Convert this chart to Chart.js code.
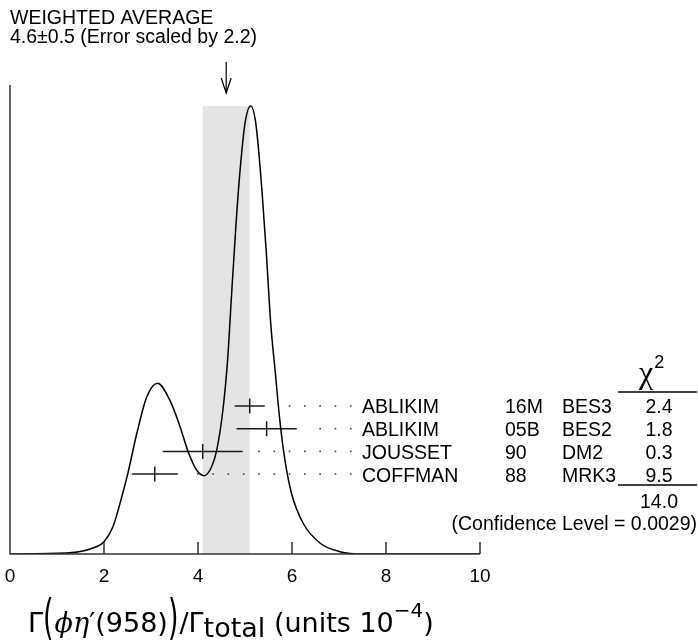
<!DOCTYPE html>
<html>
<head>
<meta charset="utf-8">
<script src="https://cdn.jsdelivr.net/npm/chart.js@4.4.1/dist/chart.umd.min.js"></script>
<style>
body { margin: 0; background: #fff; }
#wrap { width: 698px; height: 643px; }
</style>
</head>
<body>
<div id="wrap"><canvas id="ideogram" width="698" height="643"></canvas></div>
<script>
// measurements, units 10^-4
const authors = ["ABLIKIM", "ABLIKIM", "JOUSSET", "COFFMAN"];
const docIds = ["16M", "05B", "90", "88"];
const experiments = ["BES3", "BES2", "DM2", "MRK3"];
const values = [5.10, 5.46, 4.10, 3.08];
const errors = [0.32, 0.64, 0.85, 0.49];
const chi2Values = ["2.4", "1.8", "0.3", "9.5"];
const chi2Total = "14.0";
const confidenceLevel = "0.0029";

const avgValue = 4.6;
const avgError = 0.5;
const errorScale = 2.2;

// ideogram curve (relative height)
const curveX = [0, 1.2, 1.85, 2.0, 2.19, 2.4, 2.51, 2.7, 2.91, 3.14, 3.4, 3.62, 3.79, 3.97, 4.13, 4.29, 4.4, 4.53,
	4.63, 4.68, 4.72, 4.81, 4.89, 5.0, 5.12, 5.23, 5.36, 5.45, 5.55, 5.64, 5.74, 5.85, 5.99, 6.24, 6.6, 7.02, 7.52, 10];
const curveY = [0, 0.002, 0.016, 0.026, 0.058, 0.130, 0.173, 0.258, 0.335, 0.364, 0.328, 0.271, 0.218, 0.179, 0.167, 0.186, 0.222, 0.307,
	0.414, 0.495, 0.563, 0.705, 0.812, 0.918, 0.955, 0.918, 0.776, 0.648, 0.488, 0.392, 0.286, 0.200, 0.129, 0.065, 0.023, 0.005, 0, 0];

const xTicks = [0, 2, 4, 6, 8, 10];

// layout bits
const rowTop = 0.3156;
const rowStep = 0.0484;
const leaderEnd = 7.25;
const leaderStepPx = 15.3;
const sans = '"Liberation Sans", Arial, sans-serif';
const ink = "#1a1a1a";

function rowY(i) {
	return rowTop - i * rowStep;
}

let datasets = [];

datasets.push({
	data: curveX.map((v, i) => ({x: v, y: curveY[i]})),
	borderColor: "#000",
	borderWidth: 1.5,
	pointRadius: 0,
	cubicInterpolationMode: "monotone",
	fill: false
});

for (let i = 0; i < values.length; i++) {
	datasets.push({
		data: [{x: values[i] - errors[i], y: rowY(i)}, {x: values[i] + errors[i], y: rowY(i)}],
		borderColor: ink,
		borderWidth: 1.5,
		pointRadius: 0,
		fill: false
	});
}

datasets.push({
	data: values.map((v, i) => ({x: v, y: rowY(i)})),
	showLine: false,
	pointStyle: "line",
	rotation: 90,
	pointRadius: 7.5,
	borderColor: ink,
	borderWidth: 1.5
});

function drawAxisTitle(ctx) {
	let cx = 28;
	const base = 632;
	const big = '27px "DejaVu Sans"';
	ctx.fillStyle = "#000";
	ctx.textAlign = "left";
	ctx.textBaseline = "alphabetic";

	let piece = function(txt, font, dy) {
		ctx.font = font;
		ctx.fillText(txt, cx, base + (dy || 0));
		cx += ctx.measureText(txt).width;
	};
	let bigParen = function(txt) {
		ctx.save();
		ctx.font = big;
		ctx.textBaseline = "middle";
		ctx.translate(cx, 621);
		ctx.scale(1, 1.8);
		ctx.fillText(txt, 0, 0);
		ctx.restore();
		ctx.font = big;
		cx += ctx.measureText(txt).width + 1;
	};

	piece("Γ", big);
	bigParen("(");
	piece("ϕη", 'italic 27px "DejaVu Serif"');
	piece("′", big);
	piece("(958)", big);
	bigParen(")");
	piece("/Γ", big);
	piece("total", big, 5);
	piece(" (units 10", big);
	piece("−4", '20px "DejaVu Sans"', -15);
	piece(")", big);
}

const decor = {
	id: "decor",
	beforeDatasetsDraw(chart) {
		const {ctx, chartArea: a, scales: {x, y}} = chart;
		const top = y.getPixelForValue(Math.max(...curveY));
		const l = x.getPixelForValue(avgValue - avgError);
		const r = x.getPixelForValue(avgValue + avgError);
		ctx.save();
		ctx.fillStyle = "#e4e4e4";
		ctx.fillRect(l, top, r - l, a.bottom - top);
		ctx.restore();
	},
	afterDatasetsDraw(chart) {
		const {ctx, chartArea: a, scales: {x, y}} = chart;
		ctx.save();

		// frame: left line and bottom axis with inward ticks
		ctx.strokeStyle = "#333";
		ctx.lineWidth = 1.5;
		ctx.beginPath();
		ctx.moveTo(a.left, a.top);
		ctx.lineTo(a.left, a.bottom);
		ctx.lineTo(a.right, a.bottom);
		for (let t of xTicks) {
			let px = x.getPixelForValue(t);
			ctx.moveTo(px, a.bottom);
			ctx.lineTo(px, a.bottom - 12);
		}
		ctx.stroke();

		ctx.fillStyle = "#000";
		ctx.font = "19px " + sans;
		ctx.textAlign = "center";
		for (let t of xTicks) {
			ctx.fillText(String(t), x.getPixelForValue(t), a.bottom + 28);
		}

		// weighted average label and arrow
		ctx.textAlign = "left";
		ctx.font = "19.5px " + sans;
		ctx.fillText("WEIGHTED AVERAGE", 10, 24);
		ctx.fillText(avgValue.toFixed(1) + "±" + avgError.toFixed(1) + " (Error scaled by " + errorScale.toFixed(1) + ")", 10, 43);

		let ax = x.getPixelForValue(avgValue);
		ctx.strokeStyle = "#000";
		ctx.lineWidth = 1.2;
		ctx.beginPath();
		ctx.moveTo(ax, 62);
		ctx.lineTo(ax, 93);
		ctx.moveTo(ax - 5, 78);
		ctx.lineTo(ax, 93);
		ctx.lineTo(ax + 5, 78);
		ctx.stroke();

		// dotted leaders
		ctx.fillStyle = "#444";
		for (let i = 0; i < values.length; i++) {
			let py = y.getPixelForValue(rowY(i));
			let end = x.getPixelForValue(values[i] + errors[i]);
			for (let px = x.getPixelForValue(leaderEnd); px > end + 10; px -= leaderStepPx) {
				ctx.fillRect(px - 0.8, py - 0.8, 1.6, 1.6);
			}
		}

		// table
		ctx.fillStyle = "#000";
		ctx.font = "19.5px " + sans;
		for (let i = 0; i < values.length; i++) {
			let by = y.getPixelForValue(rowY(i)) + 7.5;
			ctx.textAlign = "left";
			ctx.fillText(authors[i], 362, by);
			ctx.fillText(docIds[i], 505, by);
			ctx.fillText(experiments[i], 562, by);
			ctx.textAlign = "center";
			ctx.fillText(chi2Values[i], 659, by);
		}
		ctx.fillText(chi2Total, 659, 508);
		ctx.textAlign = "right";
		ctx.fillText("(Confidence Level = " + confidenceLevel + ")", 697, 530);

		ctx.textAlign = "left";
		ctx.font = '32px "Liberation Serif"';
		ctx.fillText("χ", 639, 383);
		let chiW = ctx.measureText("χ").width;
		ctx.font = "18px " + sans;
		ctx.fillText("2", 639 + chiW + 1, 368);

		ctx.strokeStyle = "#000";
		ctx.lineWidth = 1.5;
		ctx.beginPath();
		ctx.moveTo(618, 392);
		ctx.lineTo(697, 392);
		ctx.moveTo(618, 485);
		ctx.lineTo(697, 485);
		ctx.stroke();

		drawAxisTitle(ctx);
		ctx.restore();
	}
};

new Chart(document.getElementById("ideogram"), {
	type: "line",
	data: {datasets: datasets},
	options: {
		responsive: false,
		animation: false,
		events: [],
		layout: {padding: {left: 10, right: 218, top: 85, bottom: 89}},
		scales: {
			x: {type: "linear", min: 0, max: 10, display: false},
			y: {type: "linear", min: 0, max: 1, display: false}
		},
		plugins: {legend: {display: false}, tooltip: {enabled: false}}
	},
	plugins: [decor]
});
</script>
</body>
</html>
